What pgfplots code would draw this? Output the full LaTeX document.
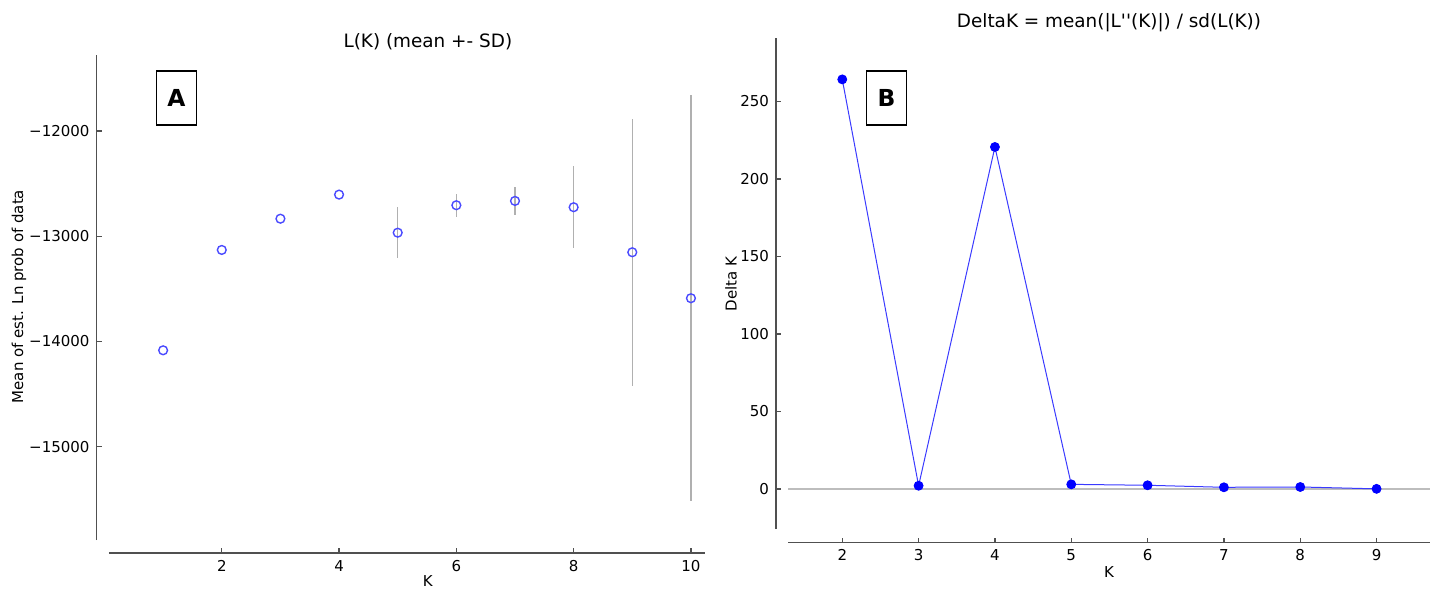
\documentclass[border=0pt]{standalone}
\usepackage{fontspec}
\setmainfont{DejaVu Sans}[Ligatures=TeXOff]
\usepackage{pgfplots}
\usepackage{pgfplotstable}
\pgfplotsset{compat=1.18}

\definecolor{spine}{HTML}{505050}
\definecolor{errgray}{HTML}{B0B0B0}
\definecolor{markblue}{HTML}{4A4AFF}
\definecolor{lineblue}{HTML}{3A3AFF}
\definecolor{zerogray}{HTML}{BDBDBD}

% L(K): mean and SD of est. Ln prob of data
\pgfplotstableread{
K L sd
1 -14085 0
2 -13131 0
3 -12834 0
4 -12605 0
5 -12967 240
6 -12706 108
7 -12665 131
8 -12725 390
9 -13153 1268
10 -13590 1930
}\tabA

% Delta K
\pgfplotstableread{
K dK
2 264.2
3 2.1
4 220.6
5 3.0
6 2.4
7 1.1
8 1.3
9 0.1
}\tabB

\pgfplotsset{
  spines/.style={
    scale only axis, clip=false,
    axis x line*=bottom, axis y line*=left,
    axis line style={draw=spine, line width=0.8pt, -},
    tick align=inside,
    major tick length=2.5pt,
    tick style={draw=spine, line width=0.6pt},
    tick label style={font=\fontsize{7.5}{9}\selectfont, text=black},
    /pgf/number format/assume math mode=true,
    scaled ticks=false,
    label style={font=\fontsize{7.5}{9}\selectfont, anchor=center},
    every axis title shift=0pt,
    title style={font=\fontsize{9.2}{11}\selectfont, anchor=center},
  },
}
\tikzset{
  letterbox/.style={draw=black, line width=0.9pt, minimum width=20pt, minimum height=27pt,
    inner sep=0pt, font=\fontsize{11.7}{14}\selectfont\bfseries},
}

\begin{document}
\begin{tikzpicture}[x=0.5pt,y=0.5pt]
\useasboundingbox (0,0) rectangle (1434,589);

\begin{axis}[spines,
  at={(54.5pt,24.5pt)}, anchor=south west,
  width=298pt, height=242.5pt,
  xmin=0.077, xmax=10.24, ymin=-15888, ymax=-11278,
  axis x line shift=6.5pt, axis y line shift=6.2pt,
  xtick={2,4,6,8,10},
  ytick={-15000,-14000,-13000,-12000},
  yticklabels={−15000,−14000,−13000,−12000},
  title={L(K) (mean +- SD)},
  title style={at={(axis description cs:0.535,1.028)}},
  xlabel={K},
  xlabel style={at={(axis description cs:0.535,-0.085)}},
  ylabel={Mean of est. Ln prob of data},
  ylabel style={at={(axis description cs:-0.151,0.502)}, rotate=0},
]
\addplot[draw=none, mark=none, forget plot,
  error bars/.cd, y dir=both, y explicit, error mark=none,
  error bar style={draw=errgray, line width=0.75pt, solid}]
  table[x=K, y=L, y error=sd] {\tabA};
\addplot[only marks, mark=o, mark size=2.2pt,
  mark options={draw=markblue, fill=white, line width=0.7pt}]
  table[x=K, y=L] {\tabA};
\node[letterbox] at (axis description cs:0.1133,0.911) {A};
\end{axis}

\begin{axis}[spines,
  at={(394pt,30pt)}, anchor=south west,
  width=321pt, height=245.5pt,
  xmin=1.289, xmax=9.70, ymin=-25.8, ymax=290.9,
  axis x line shift=6.8pt, axis y line shift=6pt,
  xtick={2,3,4,5,6,7,8,9},
  ytick={0,50,100,150,200,250},
  title={DeltaK = mean(|L''(K)|) / sd(L(K))},
  title style={at={(axis description cs:0.5,1.031)}},
  xlabel={K},
  xlabel style={at={(axis description cs:0.5,-0.088)}},
  ylabel={Delta K},
  ylabel style={at={(axis description cs:-0.0888,0.499)}, rotate=0},
]
\addplot[zerogray, line width=0.6pt] coordinates {(1.289,0) (9.70,0)};
\addplot[lineblue, line width=0.5pt, mark=*, mark size=2.2pt,
  mark options={draw=blue, fill=blue}]
  table[x=K, y=dK] {\tabB};
\node[letterbox] at (axis description cs:0.1534,0.878) {B};
\end{axis}
\end{tikzpicture}
\end{document}
